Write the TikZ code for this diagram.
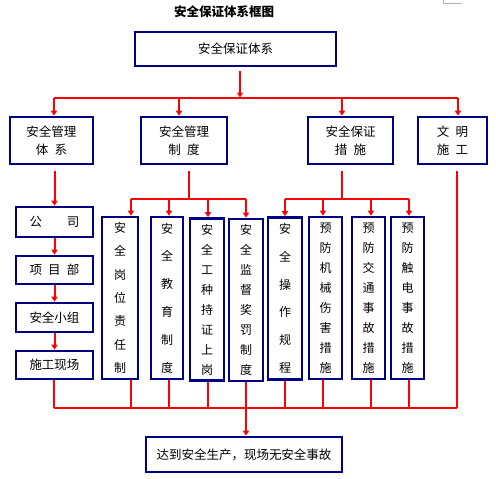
\documentclass[tikz,border=0pt]{standalone}
\usepackage{fontspec}
\setmainfont{Noto Sans CJK SC}
\usetikzlibrary{arrows.meta, positioning}
\definecolor{boxnavy}{RGB}{0,0,128}
\definecolor{linkred}{RGB}{255,0,0}

\begin{document}
\begin{tikzpicture}[x=1pt, y=-1pt,
  box/.style={draw=boxnavy, line width=2.6pt, align=center, inner sep=0pt, font=\fontsize{12.5}{18}\selectfont},
  vbox/.style={box, minimum width=33pt, minimum height=162pt, font=\fontsize{12}{#1}\selectfont},
  link/.style={draw=linkred, line width=2pt},
  arr/.style={link, -{Triangle[length=5pt, width=6pt]}}]
  \useasboundingbox (0,0) rectangle (496,479);

  % title and page corner mark
  \node[font=\fontsize{12.5}{15}\selectfont\bfseries] (title) at (224,12) {安全保证体系框图};
  \draw[gray!60, line width=0.8pt] (443,0) -- (443,3.5) -- (462,3.5);

  % first two levels
  \node[box, minimum width=201pt, minimum height=34pt] (top) at (235.5,49) {安全保证体系};
  \node[box, minimum width=83pt, minimum height=47pt] (mgmt) at (51.5,140.5) {安全管理\\体\hspace{.5em}系};
  \node[box, minimum width=86pt, minimum height=47pt] (rules) at (184,140.5) {安全管理\\制\hspace{.5em}度};
  \node[box, minimum width=85pt, minimum height=47pt] (measures) at (350.5,140.5) {安全保证\\措\hspace{.5em}施};
  \node[box, minimum width=69pt, minimum height=47pt] (civil) at (452.5,140.5) {文\hspace{.5em}明\\施\hspace{.5em}工};

  % management chain
  \node[box, minimum width=77pt, minimum height=30pt] (company) at (54.5,222) {公\hspace{2em}司};
  \node[box, minimum width=77pt, minimum height=28pt] (project) at (54.5,270) {项\hspace{.5em}目\hspace{.5em}部};
  \node[box, minimum width=77pt, minimum height=29pt] (team) at (54.5,317.5) {安全小组};
  \node[box, minimum width=77pt, minimum height=28pt] (site) at (54.5,365) {施工现场};

  % rules and measures
  \node[vbox=23.3, minimum width=36pt] (duty) at (120,298) {安\\全\\岗\\位\\责\\任\\制};
  \node[vbox=27.8, minimum width=32pt] (edu) at (167,298) {安\\全\\教\\育\\制\\度};
  \node[vbox=20, minimum width=34pt] (cert) at (207,299.5) {安\\全\\工\\种\\持\\证\\上\\岗};
  \node[vbox=20, minimum width=34pt] (super) at (246,300) {安\\全\\监\\督\\奖\\罚\\制\\度};
  \node[vbox=27.8, minimum width=34pt] (oper) at (285,298.5) {安\\全\\操\\作\\规\\程};
  \node[vbox=20] (mech) at (325.5,298) {预\\防\\机\\械\\伤\\害\\措\\施};
  \node[vbox=20] (traffic) at (368.5,298) {预\\防\\交\\通\\事\\故\\措\\施};
  \node[vbox=20] (elec) at (407.5,298) {预\\防\\触\\电\\事\\故\\措\\施};

  \node[box, minimum width=196pt, minimum height=35pt] (goal) at (244,454.5) {达到安全生产，现场无安全事故};

  % top bus
  \coordinate (hub) at (240,97.5);
  \foreach \n/\x in {a/54, b/179, c/342, d/458} \coordinate (top-\n) at (\x,97.5);
  \draw[link] (top-a) -- (top-d);
  \draw[arr, shorten <=4pt] (hub |- top.south) -- (hub);
  \foreach \n/\m in {a/mgmt, b/rules, c/measures, d/civil} \draw[arr] (top-\n) -- (top-\n |- \m.north);

  % management chain links
  \draw[arr, shorten <=6pt] (company.north |- mgmt.south) -- (company.north);
  \draw[arr] (company) -- (project);
  \draw[arr] (project) -- (team);
  \draw[arr] (team) -- (site);

  % rules bus
  \coordinate (ruleHub) at (189,199);
  \foreach \n/\x in {duty/131, edu/169, cert/208, super/246} \coordinate (r-\n) at (\x,199);
  \draw[link, shorten <=6pt] (ruleHub |- rules.south) -- (ruleHub);
  \draw[link] (r-duty) -- (r-super);
  \foreach \n in {duty, edu, cert, super} \draw[arr] (r-\n) -- (r-\n |- \n.north);

  % measures bus
  \coordinate (measHub) at (342,199);
  \foreach \n/\x in {oper/285, mech/323, traffic/371, elec/409} \coordinate (r-\n) at (\x,199);
  \draw[link, shorten <=6pt] (measHub |- measures.south) -- (measHub);
  \draw[link] (r-oper) -- (r-elec);
  \foreach \n in {oper, mech, traffic, elec} \draw[arr] (r-\n) -- (r-\n |- \n.north);

  % bottom bus
  \foreach \n/\x in {site/54, duty/131, edu/169, cert/208, super/246, oper/285, mech/323, traffic/371, elec/409}
    \coordinate (b-\n) at (\x,408);
  \coordinate (b-civil) at (457,408);
  \foreach \n in {site, duty, edu, cert, super, oper, mech, traffic, elec} \draw[link] (b-\n |- \n.south) -- (b-\n);
  \draw[link, shorten <=6pt] (b-civil |- civil.south) -- (b-civil);
  \draw[link] (b-site) -- (b-civil);
  \draw[arr] (b-super) -- (b-super |- goal.north);
\end{tikzpicture}
\end{document}
